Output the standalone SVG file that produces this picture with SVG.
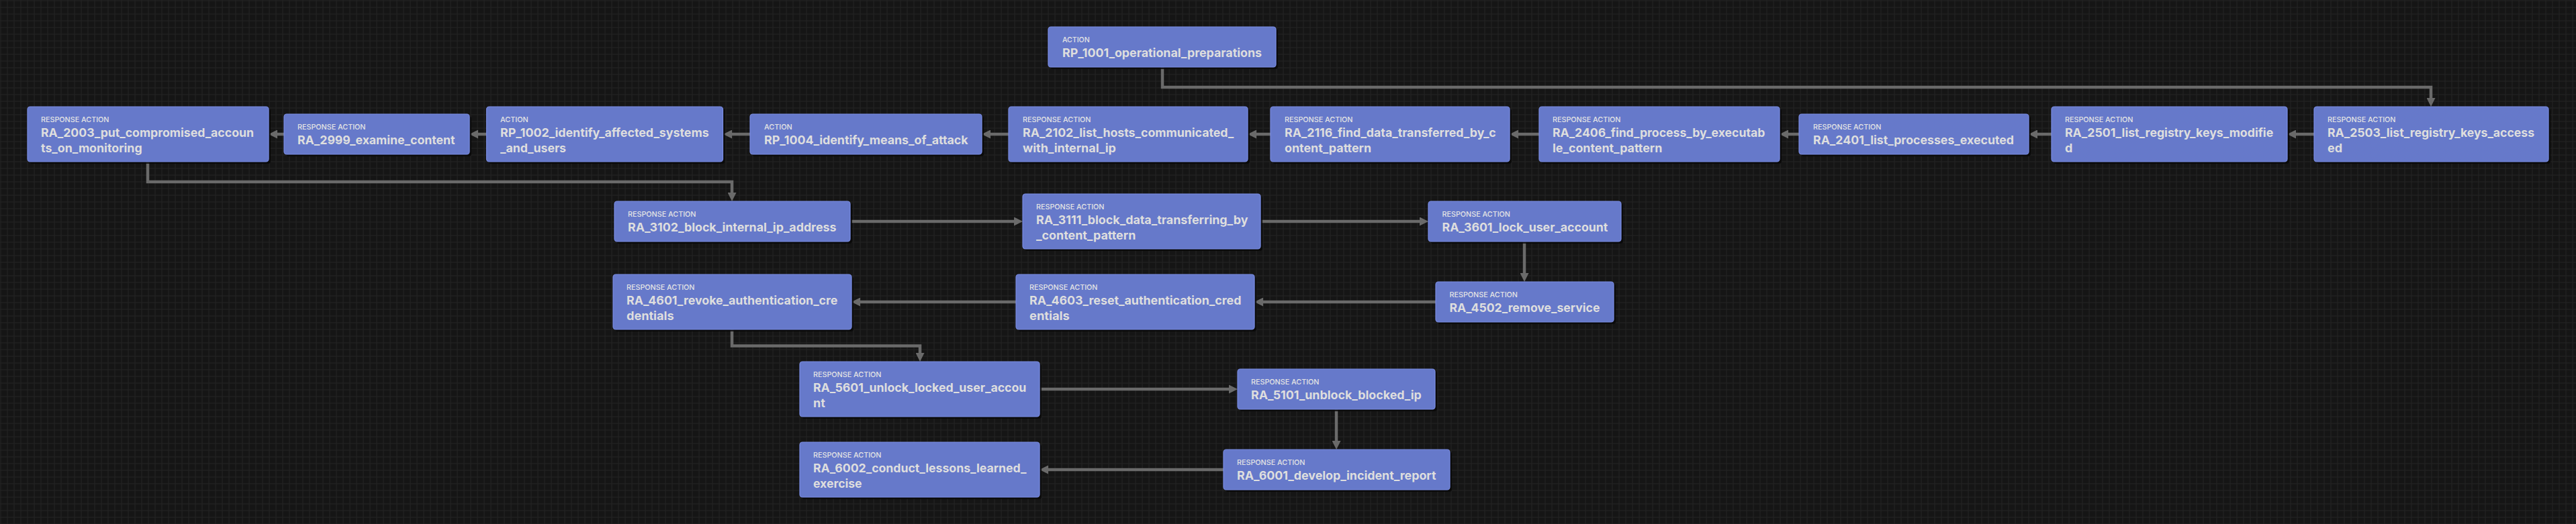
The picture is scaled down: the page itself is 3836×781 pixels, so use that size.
<svg xmlns="http://www.w3.org/2000/svg" width="3836" height="781" viewBox="0 0 3836 781">
<defs>
<pattern id="grid" width="10" height="10" patternUnits="userSpaceOnUse" x="0.5" y="0.5">
<path d="M0 0.5 H10 M0.5 0 V10" stroke="#242424" stroke-width="1" fill="none"/>
</pattern>
<marker id="arr" viewBox="0 0 13 13" markerWidth="13" markerHeight="13" markerUnits="userSpaceOnUse" refX="3" refY="6.5" orient="auto">
<path d="M0,0 L13,6.5 L0,13 z" fill="#6a6a6a"/>
</marker>
<style>
.box{fill:#6679ca;stroke:#7a8de4;stroke-width:1.2}
.sh{fill:#080808;opacity:0.85}
.lbl{font-family:Inter,"Liberation Sans",sans-serif;font-size:11px;font-weight:500;fill:#e4e4e4}
.ttl{font-family:Inter,"Liberation Sans",sans-serif;font-size:18px;font-weight:700;fill:#dedede}
.edge{fill:none;stroke:#6a6a6a;stroke-width:4.5;marker-end:url(#arr)}
</style>
</defs>
<rect width="3836" height="781" fill="#151515"/>
<rect width="3836" height="781" fill="url(#grid)"/>

<g id="connectors">
<path class="edge" d="M1731,100 V130 H3620 V149"/>
<path class="edge" d="M3446,200 H3416"/>
<path class="edge" d="M3055,200 H3031"/>
<path class="edge" d="M2679,200 H2660"/>
<path class="edge" d="M2292,200 H2258"/>
<path class="edge" d="M1892,200 H1868"/>
<path class="edge" d="M1502,200 H1472"/>
<path class="edge" d="M1117,200 H1087"/>
<path class="edge" d="M724,200 H709"/>
<path class="edge" d="M423,200 H410"/>
<path class="edge" d="M220,241 V271 H1090 V290"/>
<path class="edge" d="M1266,330 H1513"/>
<path class="edge" d="M1877,330 H2117"/>
<path class="edge" d="M2270,360 V410"/>
<path class="edge" d="M2138,450 H1878"/>
<path class="edge" d="M1513,450 H1278"/>
<path class="edge" d="M1090,491 V515.5 H1370 V529"/>
<path class="edge" d="M1548,580 H1833"/>
<path class="edge" d="M1990,610 V660"/>
<path class="edge" d="M1822,700 H1558"/>
</g>

<g id="RP_1001">
<rect class="sh" x="1564" y="43" width="339" height="60" rx="4"/>
<rect class="box" x="1561" y="40" width="339" height="60" rx="4"/>
<text class="lbl" x="1582" y="62.5" textLength="40.7" lengthAdjust="spacingAndGlyphs">ACTION</text>
<text class="ttl" x="1582" y="85" textLength="297" lengthAdjust="spacingAndGlyphs">RP_1001_operational_preparations</text>
</g>

<g id="RA_2003">
<rect class="sh" x="44" y="162" width="359" height="82" rx="4"/>
<rect class="box" x="41" y="159" width="359" height="82" rx="4"/>
<text class="lbl" x="61" y="181.5" textLength="101.5" lengthAdjust="spacingAndGlyphs">RESPONSE ACTION</text>
<text class="ttl" x="61" y="204" textLength="317" lengthAdjust="spacingAndGlyphs">RA_2003_put_compromised_accoun</text>
<text class="ttl" x="61" y="226.5" textLength="150.7" lengthAdjust="spacingAndGlyphs">ts_on_monitoring</text>
</g>

<g id="RA_2999">
<rect class="sh" x="426" y="173" width="276" height="60" rx="4"/>
<rect class="box" x="423" y="170" width="276" height="60" rx="4"/>
<text class="lbl" x="443" y="192.5" textLength="101.5" lengthAdjust="spacingAndGlyphs">RESPONSE ACTION</text>
<text class="ttl" x="443" y="215" textLength="234.6" lengthAdjust="spacingAndGlyphs">RA_2999_examine_content</text>
</g>

<g id="RP_1002">
<rect class="sh" x="727.5" y="162" width="352" height="82" rx="4"/>
<rect class="box" x="724.5" y="159" width="352" height="82" rx="4"/>
<text class="lbl" x="745" y="181.5" textLength="41.8" lengthAdjust="spacingAndGlyphs">ACTION</text>
<text class="ttl" x="745" y="204" textLength="310.7" lengthAdjust="spacingAndGlyphs">RP_1002_identify_affected_systems</text>
<text class="ttl" x="745" y="226.5" textLength="98" lengthAdjust="spacingAndGlyphs">_and_users</text>
</g>

<g id="RP_1004">
<rect class="sh" x="1120" y="173" width="345" height="60" rx="4"/>
<rect class="box" x="1117" y="170" width="345" height="60" rx="4"/>
<text class="lbl" x="1138" y="192.5" textLength="41.8" lengthAdjust="spacingAndGlyphs">ACTION</text>
<text class="ttl" x="1138" y="215" textLength="303.6" lengthAdjust="spacingAndGlyphs">RP_1004_identify_means_of_attack</text>
</g>

<g id="RA_2102">
<rect class="sh" x="1505" y="162" width="356" height="82" rx="4"/>
<rect class="box" x="1502" y="159" width="356" height="82" rx="4"/>
<text class="lbl" x="1523" y="181.5" textLength="101.5" lengthAdjust="spacingAndGlyphs">RESPONSE ACTION</text>
<text class="ttl" x="1523" y="204" textLength="314.3" lengthAdjust="spacingAndGlyphs">RA_2102_list_hosts_communicated_</text>
<text class="ttl" x="1523" y="226.5" textLength="138.8" lengthAdjust="spacingAndGlyphs">with_internal_ip</text>
</g>

<g id="RA_2116">
<rect class="sh" x="1895" y="162" width="356" height="82" rx="4"/>
<rect class="box" x="1892" y="159" width="356" height="82" rx="4"/>
<text class="lbl" x="1913" y="181.5" textLength="101.5" lengthAdjust="spacingAndGlyphs">RESPONSE ACTION</text>
<text class="ttl" x="1913" y="204" textLength="314.8" lengthAdjust="spacingAndGlyphs">RA_2116_find_data_transferred_by_c</text>
<text class="ttl" x="1913" y="226.5" textLength="129.1" lengthAdjust="spacingAndGlyphs">ontent_pattern</text>
</g>

<g id="RA_2406">
<rect class="sh" x="2295" y="162" width="358" height="82" rx="4"/>
<rect class="box" x="2292" y="159" width="358" height="82" rx="4"/>
<text class="lbl" x="2312" y="181.5" textLength="101.5" lengthAdjust="spacingAndGlyphs">RESPONSE ACTION</text>
<text class="ttl" x="2312" y="204" textLength="316.3" lengthAdjust="spacingAndGlyphs">RA_2406_find_process_by_executab</text>
<text class="ttl" x="2312" y="226.5" textLength="163.3" lengthAdjust="spacingAndGlyphs">le_content_pattern</text>
</g>

<g id="RA_2401">
<rect class="sh" x="2682" y="173" width="342" height="60" rx="4"/>
<rect class="box" x="2679" y="170" width="342" height="60" rx="4"/>
<text class="lbl" x="2700" y="192.5" textLength="101.5" lengthAdjust="spacingAndGlyphs">RESPONSE ACTION</text>
<text class="ttl" x="2700" y="215" textLength="299" lengthAdjust="spacingAndGlyphs">RA_2401_list_processes_executed</text>
</g>

<g id="RA_2501">
<rect class="sh" x="3058" y="162" width="351" height="82" rx="4"/>
<rect class="box" x="3055" y="159" width="351" height="82" rx="4"/>
<text class="lbl" x="3075" y="181.5" textLength="101.5" lengthAdjust="spacingAndGlyphs">RESPONSE ACTION</text>
<text class="ttl" x="3075" y="204" textLength="310.2" lengthAdjust="spacingAndGlyphs">RA_2501_list_registry_keys_modifie</text>
<text class="ttl" x="3075" y="226.5">d</text>
</g>

<g id="RA_2503">
<rect class="sh" x="3449" y="162" width="349" height="82" rx="4"/>
<rect class="box" x="3446" y="159" width="349" height="82" rx="4"/>
<text class="lbl" x="3466" y="181.5" textLength="101.5" lengthAdjust="spacingAndGlyphs">RESPONSE ACTION</text>
<text class="ttl" x="3466" y="204" textLength="308.1" lengthAdjust="spacingAndGlyphs">RA_2503_list_registry_keys_access</text>
<text class="ttl" x="3466" y="226.5">ed</text>
</g>

<g id="RA_3102">
<rect class="sh" x="918" y="303" width="351" height="60" rx="4"/>
<rect class="box" x="915" y="300" width="351" height="60" rx="4"/>
<text class="lbl" x="935" y="322.5" textLength="101.5" lengthAdjust="spacingAndGlyphs">RESPONSE ACTION</text>
<text class="ttl" x="935" y="345" textLength="310.4" lengthAdjust="spacingAndGlyphs">RA_3102_block_internal_ip_address</text>
</g>

<g id="RA_3111">
<rect class="sh" x="1526" y="292" width="354" height="82" rx="4"/>
<rect class="box" x="1523" y="289" width="354" height="82" rx="4"/>
<text class="lbl" x="1543" y="311.5" textLength="101.5" lengthAdjust="spacingAndGlyphs">RESPONSE ACTION</text>
<text class="ttl" x="1543" y="334" textLength="315.4" lengthAdjust="spacingAndGlyphs">RA_3111_block_data_transferring_by</text>
<text class="ttl" x="1543" y="356.5" textLength="148.3" lengthAdjust="spacingAndGlyphs">_content_pattern</text>
</g>

<g id="RA_3601">
<rect class="sh" x="2130" y="303" width="287" height="60" rx="4"/>
<rect class="box" x="2127" y="300" width="287" height="60" rx="4"/>
<text class="lbl" x="2147.5" y="322.5" textLength="101.5" lengthAdjust="spacingAndGlyphs">RESPONSE ACTION</text>
<text class="ttl" x="2147.5" y="345" textLength="246.8" lengthAdjust="spacingAndGlyphs">RA_3601_lock_user_account</text>
</g>

<g id="RA_4502">
<rect class="sh" x="2141" y="423" width="265" height="60" rx="4"/>
<rect class="box" x="2138" y="420" width="265" height="60" rx="4"/>
<text class="lbl" x="2158.5" y="442.5" textLength="101.5" lengthAdjust="spacingAndGlyphs">RESPONSE ACTION</text>
<text class="ttl" x="2158.5" y="465" textLength="223.9" lengthAdjust="spacingAndGlyphs">RA_4502_remove_service</text>
</g>

<g id="RA_4603">
<rect class="sh" x="1516" y="412" width="355" height="82" rx="4"/>
<rect class="box" x="1513" y="409" width="355" height="82" rx="4"/>
<text class="lbl" x="1533" y="431.5" textLength="101.5" lengthAdjust="spacingAndGlyphs">RESPONSE ACTION</text>
<text class="ttl" x="1533" y="454" textLength="315.4" lengthAdjust="spacingAndGlyphs">RA_4603_reset_authentication_cred</text>
<text class="ttl" x="1533" y="476.5" textLength="59.7" lengthAdjust="spacingAndGlyphs">entials</text>
</g>

<g id="RA_4601">
<rect class="sh" x="916" y="412" width="355" height="82" rx="4"/>
<rect class="box" x="913" y="409" width="355" height="82" rx="4"/>
<text class="lbl" x="933" y="431.5" textLength="101.5" lengthAdjust="spacingAndGlyphs">RESPONSE ACTION</text>
<text class="ttl" x="933" y="454" textLength="314.4" lengthAdjust="spacingAndGlyphs">RA_4601_revoke_authentication_cre</text>
<text class="ttl" x="933" y="476.5" textLength="70.6" lengthAdjust="spacingAndGlyphs">dentials</text>
</g>

<g id="RA_5601">
<rect class="sh" x="1194" y="542" width="357" height="82" rx="4"/>
<rect class="box" x="1191" y="539" width="357" height="82" rx="4"/>
<text class="lbl" x="1211" y="561.5" textLength="101.5" lengthAdjust="spacingAndGlyphs">RESPONSE ACTION</text>
<text class="ttl" x="1211" y="584" textLength="317.4" lengthAdjust="spacingAndGlyphs">RA_5601_unlock_locked_user_accou</text>
<text class="ttl" x="1211" y="606.5">nt</text>
</g>

<g id="RA_5101">
<rect class="sh" x="1846" y="553" width="294" height="60" rx="4"/>
<rect class="box" x="1843" y="550" width="294" height="60" rx="4"/>
<text class="lbl" x="1863" y="572.5" textLength="101.5" lengthAdjust="spacingAndGlyphs">RESPONSE ACTION</text>
<text class="ttl" x="1863" y="595" textLength="253.7" lengthAdjust="spacingAndGlyphs">RA_5101_unblock_blocked_ip</text>
</g>

<g id="RA_6001">
<rect class="sh" x="1825" y="673" width="337" height="60" rx="4"/>
<rect class="box" x="1822" y="670" width="337" height="60" rx="4"/>
<text class="lbl" x="1842" y="692.5" textLength="101.5" lengthAdjust="spacingAndGlyphs">RESPONSE ACTION</text>
<text class="ttl" x="1842" y="715" textLength="296.5" lengthAdjust="spacingAndGlyphs">RA_6001_develop_incident_report</text>
</g>

<g id="RA_6002">
<rect class="sh" x="1194" y="662" width="357" height="82" rx="4"/>
<rect class="box" x="1191" y="659" width="357" height="82" rx="4"/>
<text class="lbl" x="1211" y="681.5" textLength="101.5" lengthAdjust="spacingAndGlyphs">RESPONSE ACTION</text>
<text class="ttl" x="1211" y="704" textLength="317.4" lengthAdjust="spacingAndGlyphs">RA_6002_conduct_lessons_learned_</text>
<text class="ttl" x="1211" y="726.5" textLength="72.6" lengthAdjust="spacingAndGlyphs">exercise</text>
</g>
</svg>
